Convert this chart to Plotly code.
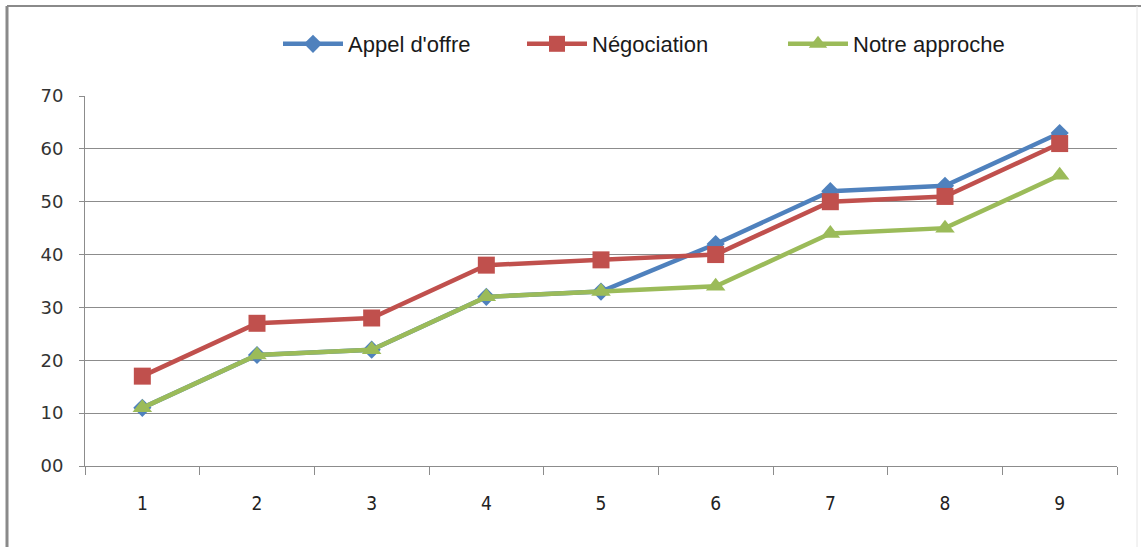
import plotly.graph_objects as go

# Data
categories = ["1", "2", "3", "4", "5", "6", "7", "8", "9"]
appel_offre = [11, 21, 22, 32, 33, 42, 52, 53, 63]
negociation = [17, 27, 28, 38, 39, 40, 50, 51, 61]
notre_approche = [11, 21, 22, 32, 33, 34, 44, 45, 55]
y_tickvals = [0, 10, 20, 30, 40, 50, 60, 70]
y_ticktext = ["00", "10", "20", "30", "40", "50", "60", "70"]

# name, values, colour, marker symbol, marker size, legend id, legend left (px)
series = [
    ("Appel d'offre", appel_offre, "#4F81BD", "diamond", 14, "legend", 278),
    ("Négociation", negociation, "#C0504D", "square", 17, "legend2", 522),
    ("Notre approche", notre_approche, "#9BBB59", "triangle-up", 17, "legend3", 783),
]

PLOT_L, PLOT_T, PLOT_W, PLOT_H = 85, 96, 1032, 370

fig = go.Figure()
legend_layouts = {}
for name, vals, color, symbol, size, leg, left in series:
    fig.add_trace(go.Scatter(
        x=categories, y=vals, name=name, mode="lines+markers",
        line=dict(color=color, width=4.5),
        marker=dict(symbol=symbol, size=size, color=color),
        legend=leg,
    ))
    legend_layouts[leg] = dict(
        orientation="h", x=(left - PLOT_L) / PLOT_W, xanchor="left",
        y=1 + (PLOT_T - 44) / PLOT_H, yanchor="middle",
        font=dict(family="Liberation Sans", size=22, color="#1a1a1a"),
        itemwidth=60, bgcolor="rgba(0,0,0,0)",
    )

axis_grey = "#8c8c8c"
frame_x = -78 / PLOT_W
frame_top = 1 + 90 / PLOT_H
fig.update_layout(
    width=1141, height=547,
    margin=dict(l=PLOT_L, r=24, t=PLOT_T, b=81),
    paper_bgcolor="white", plot_bgcolor="white",
    showlegend=True,
    **legend_layouts,
    xaxis=dict(
        type="category", range=[-0.5, 8.5],
        showgrid=False, showline=True, linecolor=axis_grey, linewidth=1,
        ticks="outside", tickson="boundaries", ticklen=8, tickcolor=axis_grey,
        ticklabelstandoff=20,
        tickfont=dict(family="DejaVu Sans Condensed", size=19, color="#222"),
    ),
    yaxis=dict(
        range=[0, 70], tickvals=y_tickvals, ticktext=y_ticktext,
        showgrid=True, gridcolor=axis_grey, gridwidth=1,
        showline=True, linecolor=axis_grey, linewidth=1,
        ticks="outside", ticklen=5, tickcolor=axis_grey,
        ticklabelstandoff=12, zeroline=False,
        tickfont=dict(family="DejaVu Sans", size=18, color="#333"),
    ),
    shapes=[
        dict(type="line", xref="paper", yref="paper",
             x0=frame_x, x1=1.5, y0=frame_top, y1=frame_top,
             line=dict(color="#8a8a8a", width=2)),
        dict(type="line", xref="paper", yref="paper",
             x0=frame_x, x1=frame_x, y0=-1, y1=frame_top,
             line=dict(color="#8a8a8a", width=3)),
        dict(type="line", xref="paper", yref="paper",
             x0=1 + 20 / PLOT_W, x1=1 + 20 / PLOT_W, y0=-1, y1=frame_top,
             line=dict(color="#e6e6e6", width=1)),
    ],
)

fig.write_html("out.html")
